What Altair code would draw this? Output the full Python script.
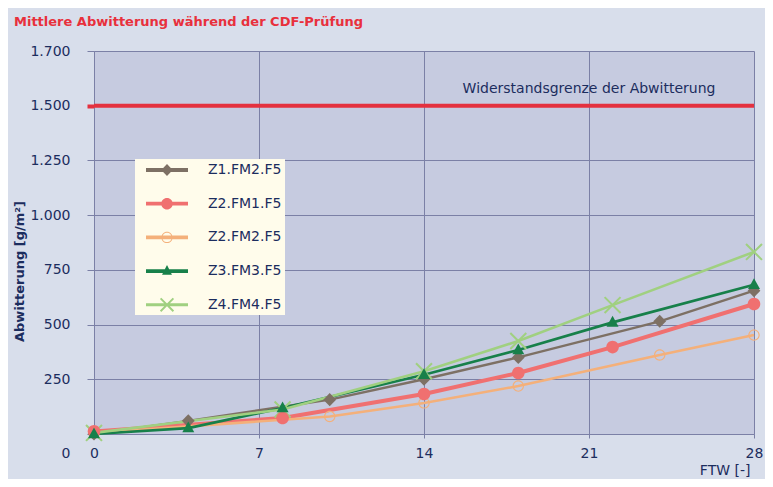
import altair as alt
import pandas as pd

# ---------------- data ----------------
series_names = ["Z1.FM2.F5", "Z2.FM1.F5", "Z2.FM2.F5", "Z3.FM3.F5", "Z4.FM4.F5"]

z1_x = [0, 4, 10, 14, 18, 24, 28]
z1_y = [0, 60, 157, 250, 350, 515, 655]

z2fm1_x = [0, 8, 14, 18, 22, 28]
z2fm1_y = [12, 73, 183, 279, 397, 594]

z2fm2_x = [0, 10, 14, 18, 24, 28]
z2fm2_y = [5, 80, 142, 219, 361, 452]

z3_x = [0, 4, 8, 14, 18, 22, 28]
z3_y = [0, 27, 119, 271, 384, 510, 682]

z4_x = [0, 8, 14, 18, 22, 28]
z4_y = [5, 112, 287, 425, 589, 832]

limit_value = 1500
limit_label = "Widerstandsgrenze der Abwitterung"

x_ticks = [0, 7, 14, 21, 28]
y_tick_values = [0, 250, 500, 750, 1000, 1250, 1500, 1750]
y_tick_labels = ["0", "250", "500", "750", "1.000", "1.250", "1.500", "1.700"]

title_text = "Mittlere Abwitterung während der CDF-Prüfung"
y_title = "Abwitterung [g/m²]"
x_title = "FTW [-]"

rows = []
for name, xs, ys in zip(series_names,
                        [z1_x, z2fm1_x, z2fm2_x, z3_x, z4_x],
                        [z1_y, z2fm1_y, z2fm2_y, z3_y, z4_y]):
    for xv, yv in zip(xs, ys):
        rows.append({"series": name, "FTW": xv, "value": yv})
df = pd.DataFrame(rows)

# ---------------- style ----------------
NAVY = "#1c2d5e"
RED = "#e4313f"
GRID = "#7b80a6"
PAGE_BG = "#d8deeb"
PLOT_BG = "#c6cbe0"
FONT = "DejaVu Sans"
colors = ["#7d7064", "#f07070", "#f4b07a", "#17804a", "#a0d080"]
line_widths = [2.4, 4, 2.5, 2.7, 2.6]
draw_order = [2, 3, 0, 4, 1]


def f(v):
    return f"{v:.3f}".rstrip("0").rstrip(".")


def circle(r, sweep=1):
    return f"M{f(r)},0A{f(r)},{f(r)} 0 1,{sweep} {f(-r)},0A{f(r)},{f(r)} 0 1,{sweep} {f(r)},0Z"


def ring(ro, ri):
    return circle(ro, 1) + circle(ri, 0)


def diamond(w, h):
    return f"M0,{f(-h)}L{f(w)},0L0,{f(h)}L{f(-w)},0Z"


def triangle(w, top, bot):
    return f"M0,{f(-top)}L{f(w)},{f(bot)}L{f(-w)},{f(bot)}Z"


def cross(e, h):
    o = h / 2 ** 0.5
    d1 = (f"M{f(-e + o)},{f(-e - o)}L{f(e + o)},{f(e - o)}"
          f"L{f(e - o)},{f(e + o)}L{f(-e - o)},{f(-e + o)}Z")
    d2 = (f"M{f(-e + o)},{f(e + o)}L{f(-e - o)},{f(e - o)}"
          f"L{f(e - o)},{f(-e - o)}L{f(e + o)},{f(-e + o)}Z")
    return d1 + d2


def hline(L, t):
    return f"M{f(-L)},{f(-t)}H{f(L)}V{f(t)}H{f(-L)}Z"


# plot markers (unit = sqrt(size)/2 px)
marker_paths = [
    diamond(1.12, 1.15),
    circle(1.1),
    ring(1.0, 0.8),
    triangle(1.05, 1.15, 0.75),
    cross(1.4, 0.18),
]

# legend symbols: line + marker (unit = 8 px)
legend_paths = [
    hline(2.625, 0.24) + diamond(0.72, 0.75),
    hline(2.625, 0.24) + circle(0.72),
    hline(2.625, 0.24) + ring(0.7, 0.59),
    hline(2.625, 0.24) + triangle(0.62, 0.75, 0.45),
    hline(2.625, 0.19) + cross(0.8, 0.12),
]

x_scale = alt.Scale(domain=[0, 28], nice=False, zero=False)
y_scale = alt.Scale(domain=[0, 1750], nice=False)

y_label_expr = " : ".join(
    f"datum.value == {v} ? '{l}'" for v, l in zip(y_tick_values, y_tick_labels)
) + " : ''"

x_axis = alt.Axis(
    values=x_ticks, title=x_title, grid=True, gridColor=GRID, gridWidth=1,
    domainColor=GRID, tickColor=GRID, tickSize=4, labelPadding=8,
    labelFont=FONT, labelFontSize=14, labelColor=NAVY, labelFlush=False,
    titleFont=FONT, titleFontSize=14, titleFontWeight="normal", titleColor=NAVY,
    titleAnchor="end", titlePadding=3, titleX=656, titleAlign="right",
)
y_axis = alt.Axis(
    values=y_tick_values, labelExpr=y_label_expr, title=y_title,
    grid=True, gridColor=GRID, gridWidth=1, domainColor=GRID,
    tickColor={"condition": {"test": f"datum.value == {limit_value}", "value": RED}, "value": GRID},
    tickWidth={"condition": {"test": f"datum.value == {limit_value}", "value": 4}, "value": 1},
    tickSize=7, labelPadding=17,
    labelOffset={"condition": {"test": "datum.value == 0", "value": 19}, "value": 0},
    labelFont=FONT, labelFontSize=14, labelColor=NAVY, labelFlush=False,
    titleFont=FONT, titleFontSize=13, titleFontWeight="bold", titleColor=NAVY,
    titleY=220, titlePadding=3,
)

base = alt.Chart(df).transform_calculate(
    order=" : ".join(f"datum.series == '{s}' ? {o}" for s, o in zip(series_names, draw_order)) + " : 0"
)

limit_df = pd.DataFrame({"value": [limit_value], "FTW": [21], "label": [limit_label]})

rule = alt.Chart(limit_df).mark_rule(color=RED, strokeWidth=4).encode(
    y=alt.Y("value:Q", scale=y_scale, axis=y_axis)
)
rule_text = alt.Chart(limit_df).mark_text(
    font=FONT, fontSize=14, color=NAVY, dy=-17, align="center"
).encode(
    x=alt.X("FTW:Q", scale=x_scale, axis=x_axis),
    y=alt.Y("value:Q", scale=y_scale),
    text="label:N",
)

lines = base.mark_line().encode(
    x=alt.X("FTW:Q", scale=x_scale, axis=x_axis),
    y=alt.Y("value:Q", scale=y_scale, axis=y_axis),
    color=alt.Color("series:N", scale=alt.Scale(domain=series_names, range=colors), legend=None),
    strokeWidth=alt.StrokeWidth("series:N", scale=alt.Scale(type="ordinal", domain=series_names, range=line_widths), legend=None),
    detail="order:O",
)

points = base.mark_point(filled=True, size=130, opacity=1).encode(
    x=alt.X("FTW:Q", scale=x_scale),
    y=alt.Y("value:Q", scale=y_scale),
    color=alt.Color("series:N", scale=alt.Scale(domain=series_names, range=colors), legend=None),
    shape=alt.Shape("series:N", scale=alt.Scale(domain=series_names, range=marker_paths), legend=None),
    order=alt.Order("order:Q"),
)

legend = alt.Legend(
    title=None, orient="none", legendX=41, legendY=108,
    fillColor="#fffceb", padding=3, rowPadding=18.7,
    symbolSize=256, symbolOffset=21, labelOffset=33,
    symbolStrokeWidth=0, symbolOpacity=1,
    labelFont=FONT, labelFontSize=14, labelColor=NAVY, labelLimit=0,
)
legend_layer = base.mark_point(filled=True, size=0).encode(
    x=alt.X("FTW:Q", scale=x_scale),
    y=alt.Y("value:Q", scale=y_scale),
    color=alt.Color("series:N", scale=alt.Scale(domain=series_names, range=colors), legend=legend),
    shape=alt.Shape("series:N", scale=alt.Scale(domain=series_names, range=legend_paths), legend=legend),
).transform_filter("false")

chart = alt.layer(rule, rule_text, lines, points, legend_layer).resolve_scale(
    color="independent", shape="independent", strokeWidth="independent"
).properties(
    width=660, height=383,
    padding={"left": 86, "top": 43, "right": 11, "bottom": 45},
    autosize=alt.AutoSizeParams(type="none"),
    title=alt.TitleParams(
        title_text, anchor="start", frame="group", dx=-80, offset=15,
        font=FONT, fontSize=13, fontWeight="bold", color="#e8303c",
    ),
).configure(
    background=PAGE_BG,
).configure_view(
    fill=PLOT_BG, stroke=None,
)

chart.save("out.html", embed_options={"renderer": "svg", "actions": False})
